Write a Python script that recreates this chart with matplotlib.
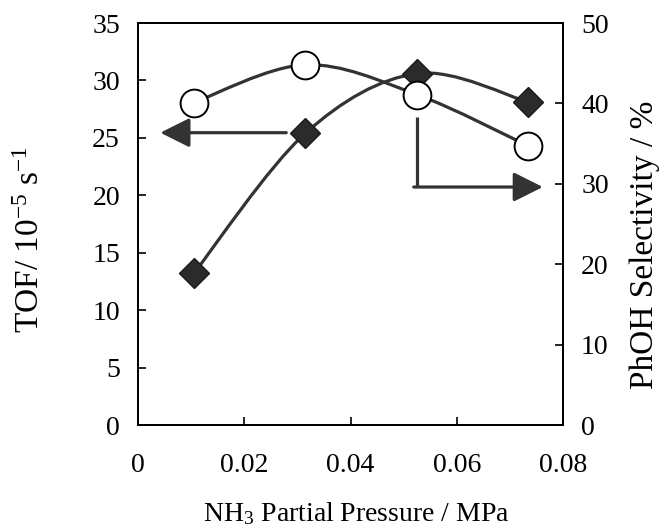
import numpy as np
import matplotlib
matplotlib.use("Agg")
import matplotlib.pyplot as plt
from matplotlib.path import Path
from matplotlib.patches import PathPatch

plt.rcParams['font.family'] = ['Liberation Serif', 'DejaVu Serif']
plt.rcParams['mathtext.fontset'] = 'custom'
plt.rcParams['mathtext.rm'] = 'Liberation Serif'
plt.rcParams['mathtext.it'] = 'Liberation Serif:italic'

# data
p_nh3 = [0.0105, 0.0315, 0.0525, 0.0735]          # MPa
tof = [13.2, 25.4, 30.6, 28.1]                      # 10^-5 s^-1 (left axis)
phoh_sel = [40.1, 44.8, 41.1, 34.7]                 # % (right axis)

line_col = '#333333'


def smooth_path(xs, ys, tension=1.0 / 6):
    # catmull-rom style bezier through the points (like a spreadsheet "smoothed line")
    pts = np.column_stack([xs, ys]).astype(float)
    n = len(pts)
    verts = [pts[0]]
    codes = [Path.MOVETO]
    for i in range(n - 1):
        p0 = pts[i - 1] if i > 0 else pts[i]
        p1 = pts[i]
        p2 = pts[i + 1]
        p3 = pts[i + 2] if i + 2 < n else pts[i + 1]
        c1 = p1 + (p2 - p0) * tension
        c2 = p2 - (p3 - p1) * tension
        verts += [c1, c2, p2]
        codes += [Path.CURVE4] * 3
    return Path(verts, codes)


fig = plt.figure(figsize=(6.69, 5.30), dpi=100)
ax = fig.add_axes([0.2063, 0.1981, 0.6353, 0.7585])
ax2 = ax.twinx()

ax.set_xlim(0, 0.08)
ax.set_ylim(0, 35)
ax2.set_ylim(0, 50)

# TOF curve (diamonds)
ax.add_patch(PathPatch(smooth_path(p_nh3, tof), fill=False, lw=2.3,
                       edgecolor=line_col, zorder=2))
ax.plot(p_nh3, tof, ls='none', marker='D', ms=15, mfc='#2b2b2b',
        mec='#1a1a1a', mew=1, zorder=3)

# selectivity curve (open circles)
ax2.add_patch(PathPatch(smooth_path(p_nh3, phoh_sel), fill=False, lw=2.3,
                        edgecolor=line_col, zorder=2))
ax2.plot(p_nh3, phoh_sel, ls='none', marker='o', ms=20, mfc='white',
         mec='black', mew=1.4, zorder=3)

# arrows pointing to the axes
arr = dict(arrowstyle='-|>,head_length=0.9,head_width=0.45', mutation_scale=20,
           lw=2.3, color=line_col, shrinkA=0, shrinkB=0)
ax.annotate('', xy=(0.0042, 25.45), xytext=(0.0279, 25.45), arrowprops=arr)
ax2.plot([0.0525, 0.0525], [38.3, 29.6], color=line_col, lw=2.3,
         solid_capstyle='butt')
ax2.annotate('', xy=(0.0762, 29.6), xytext=(0.0519, 29.6), arrowprops=arr)

# ticks
tick_kw = dict(direction='in', length=6, width=1.2, labelsize=20, colors='black')
ax.tick_params(axis='y', left=True, right=False, pad=13, **tick_kw)
ax.tick_params(axis='x', bottom=True, top=False, pad=20, **tick_kw)
ax2.tick_params(axis='y', right=True, left=False, pad=13, **tick_kw)
ax.set_yticks(np.arange(0, 36, 5))
ax2.set_yticks(np.arange(0, 51, 10))
ax.set_xticks([0, 0.02, 0.04, 0.06, 0.08])
ax.set_xticklabels(['0', '0.02', '0.04', '0.06', '0.08'])

for a in (ax, ax2):
    for s in a.spines.values():
        s.set_linewidth(1.3)
        s.set_color('black')

fig.text(356 / 669, 1 - 514 / 530, 'NH$_3$ Partial Pressure / MPa', fontsize=20,
         ha='center', va='center')
fig.text(31 / 669, 1 - 239 / 530, 'TOF/ 10$^{-5}$ s$^{-1}$', fontsize=24,
         rotation=90, ha='center', va='center')
fig.text(645 / 669, 1 - 245 / 530, 'PhOH Selectivity / %', fontsize=24,
         rotation=90, ha='center', va='center')

fig.savefig('out.png', dpi=100)
